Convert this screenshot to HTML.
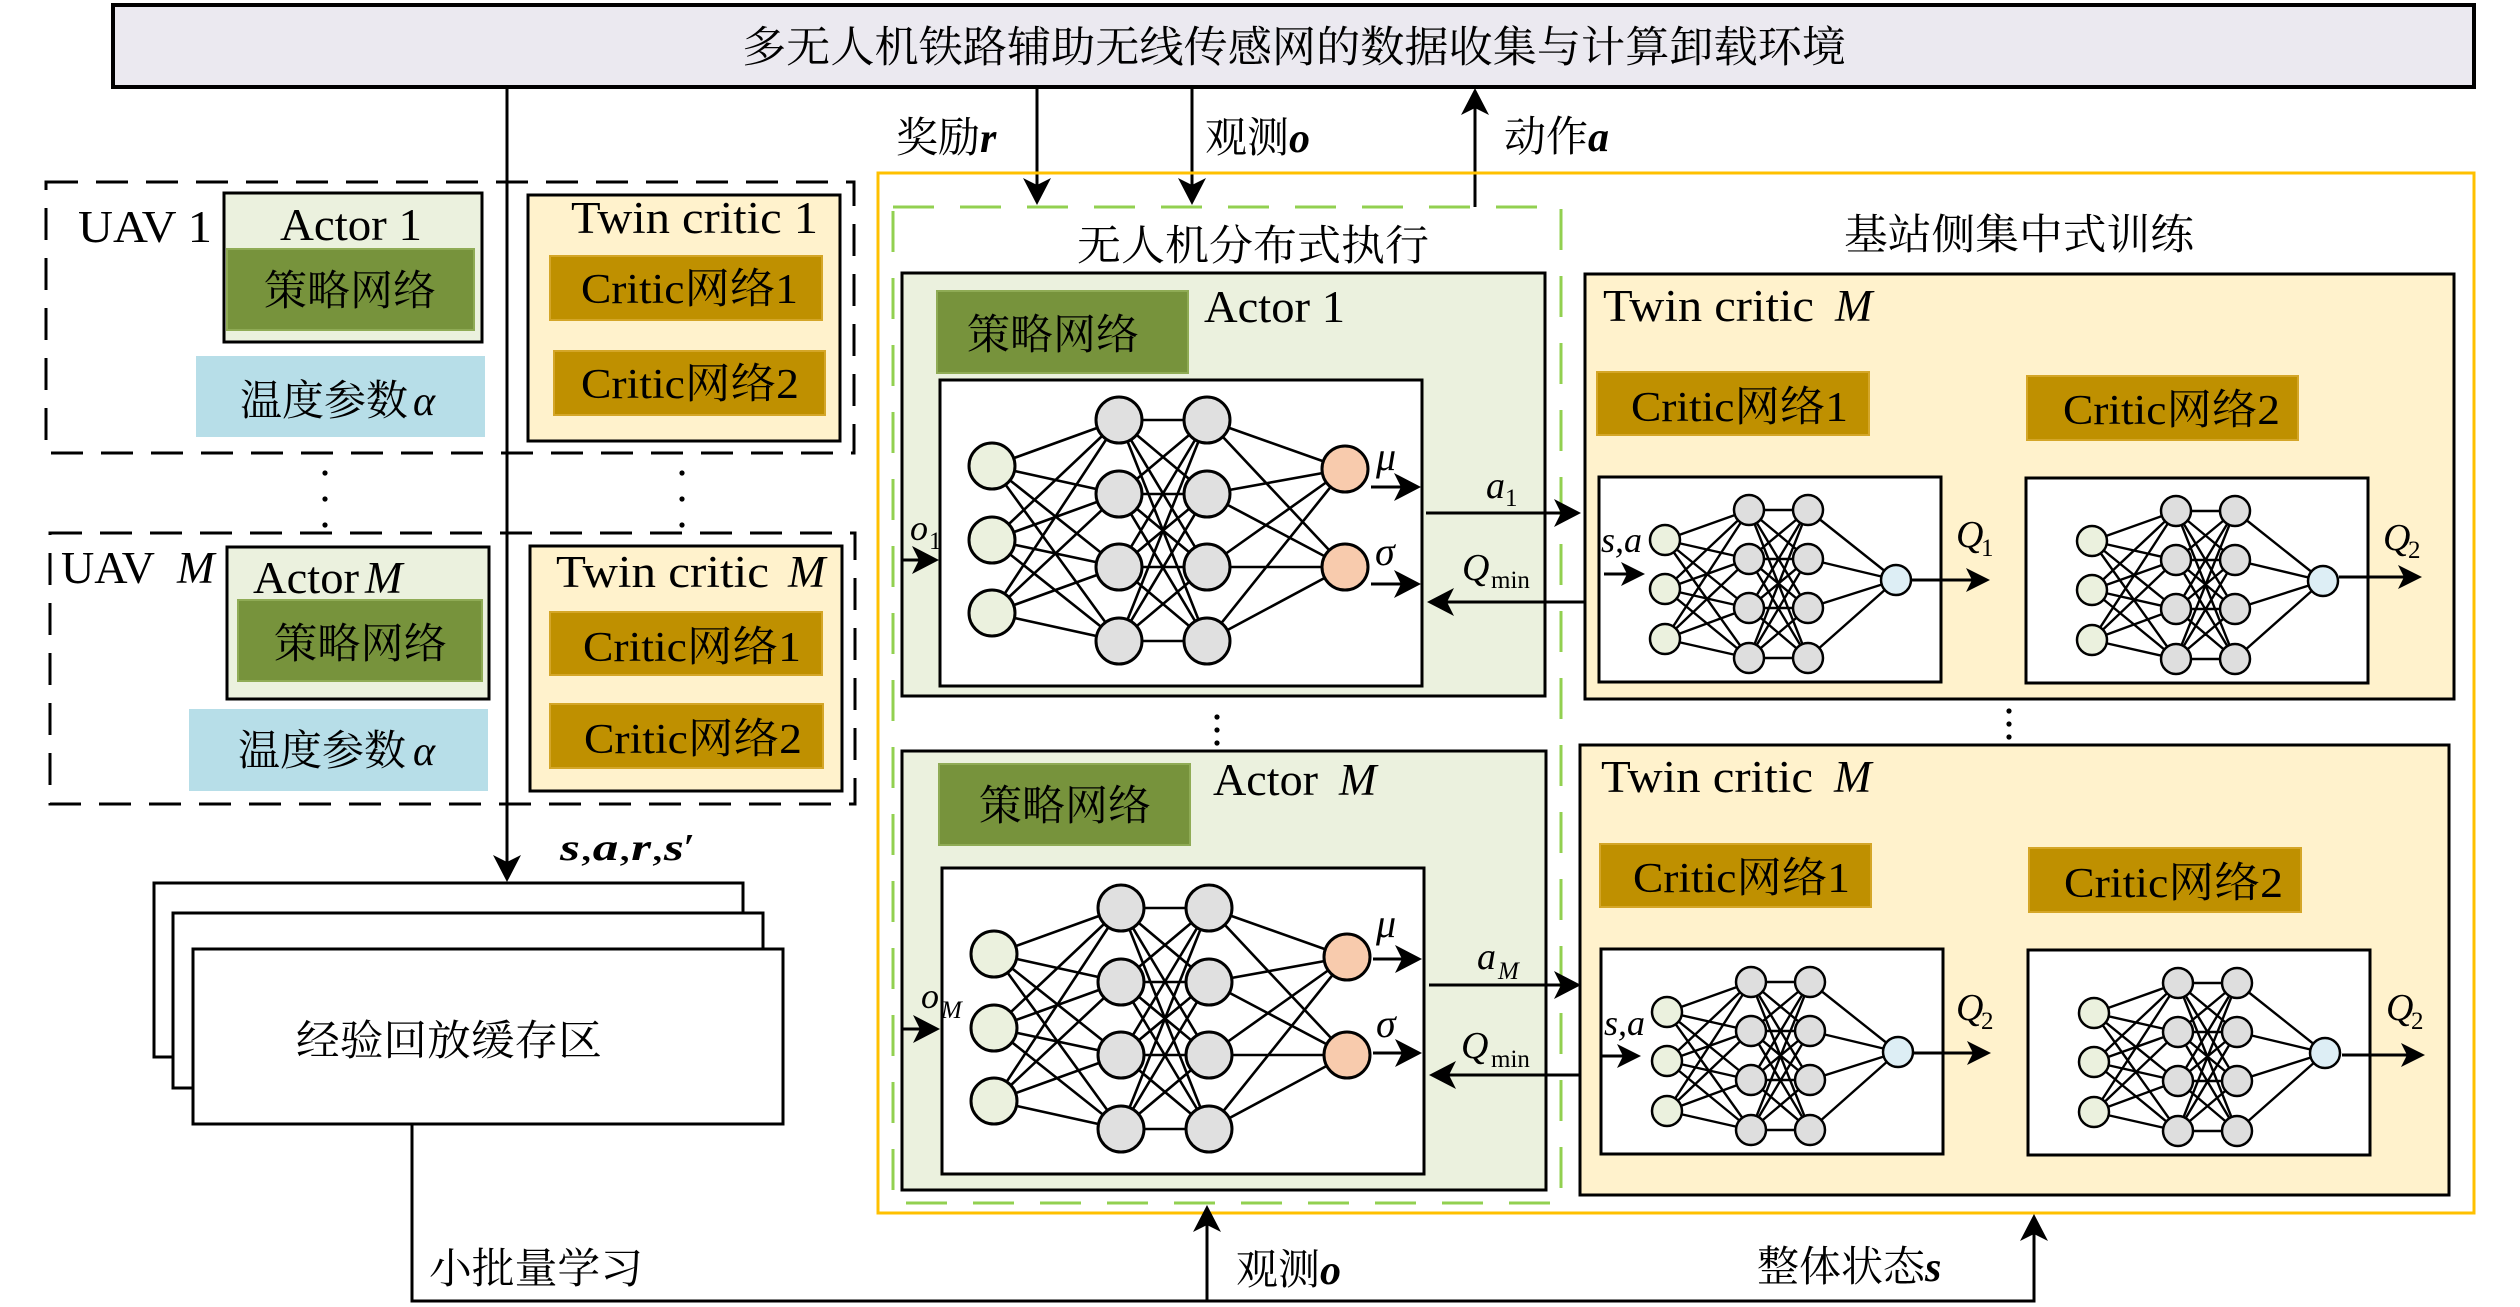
<!DOCTYPE html>
<html><head><meta charset="utf-8">
<style>
html,body{margin:0;padding:0;background:#fff;}
svg{display:block;}
text{font-family:"Liberation Serif","Noto Serif CJK SC",serif;fill:#000;}
.c{font-size:42px;}
.l{font-size:45px;}
.it{font-style:italic;}
.bi{font-style:italic;font-weight:bold;}
</style></head><body>
<svg width="2520" height="1307" viewBox="0 0 2520 1307" xmlns="http://www.w3.org/2000/svg">
<defs>
<g id="ann">
<rect x="0" y="0" width="482" height="306" fill="#fff" stroke="#000" stroke-width="3"/>
<path fill="none" stroke="#000" stroke-width="2.6" d="M52 86L179 40M52 86L179 114M52 86L179 187M52 86L179 261M52 160L179 40M52 160L179 114M52 160L179 187M52 160L179 261M52 233L179 40M52 233L179 114M52 233L179 187M52 233L179 261M179 40L267 40M179 40L267 114M179 40L267 187M179 40L267 261M179 114L267 40M179 114L267 114M179 114L267 187M179 114L267 261M179 187L267 40M179 187L267 114M179 187L267 187M179 187L267 261M179 261L267 40M179 261L267 114M179 261L267 187M179 261L267 261M267 40L405 89M267 40L405 187M267 114L405 89M267 114L405 187M267 187L405 89M267 187L405 187M267 261L405 89M267 261L405 187"/>
<g stroke="#000" stroke-width="3">
<circle cx="52" cy="86" r="23" fill="#ebf1de"/><circle cx="52" cy="160" r="23" fill="#ebf1de"/><circle cx="52" cy="233" r="23" fill="#ebf1de"/>
<circle cx="179" cy="40" r="23" fill="#e0e0e0"/><circle cx="179" cy="114" r="23" fill="#e0e0e0"/><circle cx="179" cy="187" r="23" fill="#e0e0e0"/><circle cx="179" cy="261" r="23" fill="#e0e0e0"/>
<circle cx="267" cy="40" r="23" fill="#e0e0e0"/><circle cx="267" cy="114" r="23" fill="#e0e0e0"/><circle cx="267" cy="187" r="23" fill="#e0e0e0"/><circle cx="267" cy="261" r="23" fill="#e0e0e0"/>
<circle cx="405" cy="89" r="23" fill="#f8cbad"/><circle cx="405" cy="187" r="23" fill="#f8cbad"/>
</g>
</g>
<g id="cnn">
<rect x="0" y="0" width="342" height="205" fill="#fff" stroke="#000" stroke-width="3"/>
<path fill="none" stroke="#000" stroke-width="2.4" d="M66 63L150 33M66 63L150 82M66 63L150 131M66 63L150 181M66 112L150 33M66 112L150 82M66 112L150 131M66 112L150 181M66 162L150 33M66 162L150 82M66 162L150 131M66 162L150 181M150 33L209 33M150 33L209 82M150 33L209 131M150 33L209 181M150 82L209 33M150 82L209 82M150 82L209 131M150 82L209 181M150 131L209 33M150 131L209 82M150 131L209 131M150 131L209 181M150 181L209 33M150 181L209 82M150 181L209 131M150 181L209 181M209 33L297 103M209 82L297 103M209 131L297 103M209 181L297 103"/>
<g stroke="#000" stroke-width="2.5">
<circle cx="66" cy="63" r="15" fill="#ebf1de"/><circle cx="66" cy="112" r="15" fill="#ebf1de"/><circle cx="66" cy="162" r="15" fill="#ebf1de"/>
<circle cx="150" cy="33" r="15" fill="#dedede"/><circle cx="150" cy="82" r="15" fill="#dedede"/><circle cx="150" cy="131" r="15" fill="#dedede"/><circle cx="150" cy="181" r="15" fill="#dedede"/>
<circle cx="209" cy="33" r="15" fill="#dedede"/><circle cx="209" cy="82" r="15" fill="#dedede"/><circle cx="209" cy="131" r="15" fill="#dedede"/><circle cx="209" cy="181" r="15" fill="#dedede"/>
<circle cx="297" cy="103" r="15" fill="#ddeef5"/>
</g>
</g>
</defs>

<rect width="2520" height="1307" fill="#fff"/>

<!-- top environment box -->
<rect x="113" y="5" width="2361" height="82" fill="#ebe9f0" stroke="#000" stroke-width="4"/>
<text class="c" x="742" y="62" textLength="1104" lengthAdjust="spacingAndGlyphs" style="font-size:43px">多无人机铁路辅助无线传感网的数据收集与计算卸载环境</text>

<!-- UAV 1 dashed group -->
<rect x="46" y="182" width="808" height="271" fill="none" stroke="#000" stroke-width="3" stroke-dasharray="32 18"/>
<text class="l" x="78" y="242" textLength="134" lengthAdjust="spacingAndGlyphs">UAV 1</text>
<rect x="224" y="193" width="258" height="149" fill="#ebf1de" stroke="#000" stroke-width="3"/>
<text class="l" x="280" y="240" textLength="142" lengthAdjust="spacingAndGlyphs">Actor 1</text>
<rect x="227" y="249" width="247" height="81" fill="#77933c" stroke="#8fab55" stroke-width="2"/>
<text class="c" x="264" y="305" textLength="172" lengthAdjust="spacingAndGlyphs">策略网络</text>
<rect x="196" y="356" width="289" height="81" fill="#b7dee8"/>
<text class="c" x="240" y="415">温度参数<tspan class="it" x="413">α</tspan></text>
<rect x="528" y="195" width="312" height="246" fill="#fff2cc" stroke="#000" stroke-width="3"/>
<text class="l" x="571" y="233" textLength="247" lengthAdjust="spacingAndGlyphs">Twin critic 1</text>
<rect x="550" y="256" width="272" height="64" fill="#bf9000" stroke="#d4a628" stroke-width="2"/>
<text class="c" x="581" y="303" textLength="217" lengthAdjust="spacingAndGlyphs">Critic网络1</text>
<rect x="554" y="351" width="271" height="64" fill="#bf9000" stroke="#d4a628" stroke-width="2"/>
<text class="c" x="581" y="398" textLength="218" lengthAdjust="spacingAndGlyphs">Critic网络2</text>

<!-- dots -->
<g fill="#000">
<circle cx="325" cy="473" r="2.6"/><circle cx="325" cy="499" r="2.6"/><circle cx="325" cy="525" r="2.6"/>
<circle cx="682" cy="473" r="2.6"/><circle cx="682" cy="499" r="2.6"/><circle cx="682" cy="525" r="2.6"/>
<circle cx="1217" cy="717" r="2.6"/><circle cx="1217" cy="730" r="2.6"/><circle cx="1217" cy="743" r="2.6"/>
<circle cx="2009" cy="711" r="2.6"/><circle cx="2009" cy="724" r="2.6"/><circle cx="2009" cy="737" r="2.6"/>
</g>

<!-- UAV M dashed group -->
<rect x="50" y="533" width="805" height="271" fill="none" stroke="#000" stroke-width="3" stroke-dasharray="32 18"/>
<text class="l" x="61" y="583" textLength="94" lengthAdjust="spacingAndGlyphs">UAV</text>
<text class="l it" x="177" y="583">M</text>
<rect x="227" y="547" width="262" height="152" fill="#ebf1de" stroke="#000" stroke-width="3"/>
<text class="l" x="253" y="593" textLength="106" lengthAdjust="spacingAndGlyphs">Actor</text>
<text class="l it" x="365" y="593">M</text>
<rect x="238" y="600" width="244" height="81" fill="#77933c" stroke="#8fab55" stroke-width="2"/>
<text class="c" x="274" y="658" textLength="173" lengthAdjust="spacingAndGlyphs">策略网络</text>
<rect x="189" y="709" width="299" height="82" fill="#b7dee8"/>
<text class="c" x="238" y="765">温度参数<tspan class="it" x="413">α</tspan></text>
<rect x="530" y="546" width="312" height="245" fill="#fff2cc" stroke="#000" stroke-width="3"/>
<text class="l" x="556" y="587" textLength="213" lengthAdjust="spacingAndGlyphs">Twin critic</text>
<text class="l it" x="788" y="587">M</text>
<rect x="550" y="612" width="272" height="63" fill="#bf9000" stroke="#d4a628" stroke-width="2"/>
<text class="c" x="583" y="661" textLength="218" lengthAdjust="spacingAndGlyphs">Critic网络1</text>
<rect x="550" y="704" width="273" height="64" fill="#bf9000" stroke="#d4a628" stroke-width="2"/>
<text class="c" x="584" y="753" textLength="218" lengthAdjust="spacingAndGlyphs">Critic网络2</text>

<!-- replay buffer -->
<rect x="154" y="883" width="589" height="174" fill="#fff" stroke="#000" stroke-width="3"/>
<rect x="173" y="913" width="590" height="175" fill="#fff" stroke="#000" stroke-width="3"/>
<rect x="193" y="949" width="590" height="175" fill="#fff" stroke="#000" stroke-width="3"/>
<text class="c" x="296" y="1055" textLength="306" lengthAdjust="spacingAndGlyphs">经验回放缓存区</text>

<!-- left vertical arrow -->
<line x1="507" y1="87" x2="507" y2="866" stroke="#000" stroke-width="3"/>
<polygon points="507,882 493,855 507,862 521,855" fill="#000"/>
<text x="560" y="860" style="font-size:38px" textLength="135" lengthAdjust="spacingAndGlyphs"><tspan class="bi">s</tspan>,<tspan class="bi">a</tspan>,<tspan class="bi">r</tspan>,<tspan class="bi">s</tspan>′</text>

<!-- top arrows -->
<line x1="1037" y1="87" x2="1037" y2="190" stroke="#000" stroke-width="3"/>
<polygon points="1037,205 1023,178 1037,185 1051,178" fill="#000"/>
<line x1="1192" y1="87" x2="1192" y2="190" stroke="#000" stroke-width="3"/>
<polygon points="1192,205 1178,178 1192,185 1206,178" fill="#000"/>
<line x1="1475" y1="207" x2="1475" y2="104" stroke="#000" stroke-width="3"/>
<polygon points="1475,88 1461,115 1475,108 1489,115" fill="#000"/>
<text class="c" x="896" y="152">奖励<tspan class="bi">r</tspan></text>
<text class="c" x="1205" y="152">观测<tspan class="bi">o</tspan></text>
<text class="c" x="1504" y="151">动作<tspan class="bi">a</tspan></text>

<!-- orange + green containers -->
<rect x="878" y="173" width="1596" height="1040" fill="none" stroke="#ffc000" stroke-width="3"/>
<rect x="893" y="207" width="668" height="996" fill="none" stroke="#92d050" stroke-width="3" stroke-dasharray="41 26"/>
<text class="c" x="1077" y="260" textLength="352" lengthAdjust="spacingAndGlyphs">无人机分布式执行</text>
<text class="c" x="1844" y="249" textLength="350" lengthAdjust="spacingAndGlyphs">基站侧集中式训练</text>

<!-- Actor 1 panel -->
<rect x="902" y="273" width="643" height="423" fill="#ebf1de" stroke="#000" stroke-width="3"/>
<rect x="937" y="291" width="251" height="82" fill="#77933c" stroke="#8fab55" stroke-width="2"/>
<text class="c" x="967" y="349" textLength="172" lengthAdjust="spacingAndGlyphs">策略网络</text>
<text class="l" x="1204" y="322" textLength="141" lengthAdjust="spacingAndGlyphs">Actor 1</text>
<use href="#ann" x="940" y="380"/>
<line x1="903" y1="560" x2="925" y2="560" stroke="#000" stroke-width="3"/>
<polygon points="939,560 912,546 919,560 912,574" fill="#000"/>
<text class="it" x="910" y="540" style="font-size:36px">o</text><text x="929" y="549" style="font-size:25px">1</text>
<line x1="1371" y1="487" x2="1405" y2="487" stroke="#000" stroke-width="3"/>
<polygon points="1421,487 1394,473 1401,487 1394,501" fill="#000"/>
<line x1="1371" y1="584" x2="1405" y2="584" stroke="#000" stroke-width="3"/>
<polygon points="1421,584 1394,570 1401,584 1394,598" fill="#000"/>
<text class="it" x="1376" y="470" style="font-size:40px">μ</text>
<text class="it" x="1375" y="565" style="font-size:40px">σ</text>
<line x1="1426" y1="513" x2="1565" y2="513" stroke="#000" stroke-width="3"/>
<polygon points="1581,513 1554,499 1561,513 1554,527" fill="#000"/>
<text class="it" x="1486" y="498" style="font-size:38px">a</text><text x="1505" y="506" style="font-size:25px">1</text>
<line x1="1585" y1="602" x2="1441" y2="602" stroke="#000" stroke-width="3"/>
<polygon points="1427,602 1454,588 1447,602 1454,616" fill="#000"/>
<text class="it" x="1462" y="580" style="font-size:38px">Q</text><text x="1491" y="588" style="font-size:25px">min</text>

<!-- Actor M panel -->
<rect x="902" y="751" width="644" height="439" fill="#ebf1de" stroke="#000" stroke-width="3"/>
<rect x="939" y="764" width="251" height="81" fill="#77933c" stroke="#8fab55" stroke-width="2"/>
<text class="c" x="979" y="820" textLength="172" lengthAdjust="spacingAndGlyphs">策略网络</text>
<text class="l" x="1213" y="795" textLength="105" lengthAdjust="spacingAndGlyphs">Actor</text>
<text class="l it" x="1339" y="795">M</text>
<use href="#ann" x="942" y="868"/>
<line x1="903" y1="1029" x2="925" y2="1029" stroke="#000" stroke-width="3"/>
<polygon points="940,1029 913,1015 920,1029 913,1043" fill="#000"/>
<text class="it" x="921" y="1008" style="font-size:36px">o</text><text class="it" x="941" y="1018" style="font-size:25px">M</text>
<line x1="1373" y1="959" x2="1406" y2="959" stroke="#000" stroke-width="3"/>
<polygon points="1422,959 1395,945 1402,959 1395,973" fill="#000"/>
<line x1="1373" y1="1053" x2="1406" y2="1053" stroke="#000" stroke-width="3"/>
<polygon points="1422,1053 1395,1039 1402,1053 1395,1067" fill="#000"/>
<text class="it" x="1376" y="937" style="font-size:40px">μ</text>
<text class="it" x="1376" y="1037" style="font-size:40px">σ</text>
<line x1="1429" y1="985" x2="1565" y2="985" stroke="#000" stroke-width="3"/>
<polygon points="1581,985 1554,971 1561,985 1554,999" fill="#000"/>
<text class="it" x="1477" y="969" style="font-size:38px">a</text><text class="it" x="1498" y="979" style="font-size:25px">M</text>
<line x1="1580" y1="1075" x2="1443" y2="1075" stroke="#000" stroke-width="3"/>
<polygon points="1429,1075 1456,1061 1449,1075 1456,1089" fill="#000"/>
<text class="it" x="1461" y="1058" style="font-size:38px">Q</text><text x="1491" y="1067" style="font-size:25px">min</text>

<!-- Twin critic top -->
<rect x="1585" y="274" width="869" height="425" fill="#fff2cc" stroke="#000" stroke-width="3"/>
<text class="l" x="1603" y="321" textLength="211" lengthAdjust="spacingAndGlyphs">Twin critic</text>
<text class="l it" x="1835" y="321">M</text>
<rect x="1597" y="372" width="272" height="63" fill="#bf9000" stroke="#d4a628" stroke-width="2"/>
<text class="c" x="1631" y="421" textLength="217" lengthAdjust="spacingAndGlyphs">Critic网络1</text>
<rect x="2027" y="376" width="271" height="64" fill="#bf9000" stroke="#d4a628" stroke-width="2"/>
<text class="c" x="2063" y="424" textLength="217" lengthAdjust="spacingAndGlyphs">Critic网络2</text>
<use href="#cnn" x="1599" y="477"/>
<use href="#cnn" x="2026" y="478"/>
<text class="it" x="1601" y="552" style="font-size:36px">s,a</text>
<line x1="1604" y1="574" x2="1630" y2="574" stroke="#000" stroke-width="3"/>
<polygon points="1645,574 1621,562 1627,574 1621,586" fill="#000"/>
<line x1="1912" y1="580" x2="1975" y2="580" stroke="#000" stroke-width="3"/>
<polygon points="1990,580 1966,568 1972,580 1966,592" fill="#000"/>
<text class="it" x="1956" y="547" style="font-size:38px">Q</text><text x="1981" y="556" style="font-size:25px">1</text>
<line x1="2339" y1="577" x2="2408" y2="577" stroke="#000" stroke-width="3"/>
<polygon points="2422,577 2398,565 2404,577 2398,589" fill="#000"/>
<text class="it" x="2383" y="550" style="font-size:38px">Q</text><text x="2408" y="558" style="font-size:25px">2</text>

<!-- Twin critic bottom -->
<rect x="1580" y="745" width="869" height="450" fill="#fff2cc" stroke="#000" stroke-width="3"/>
<text class="l" x="1601" y="792" textLength="212" lengthAdjust="spacingAndGlyphs">Twin critic</text>
<text class="l it" x="1834" y="792">M</text>
<rect x="1600" y="844" width="271" height="63" fill="#bf9000" stroke="#d4a628" stroke-width="2"/>
<text class="c" x="1633" y="892" textLength="217" lengthAdjust="spacingAndGlyphs">Critic网络1</text>
<rect x="2029" y="848" width="272" height="64" fill="#bf9000" stroke="#d4a628" stroke-width="2"/>
<text class="c" x="2064" y="897" textLength="219" lengthAdjust="spacingAndGlyphs">Critic网络2</text>
<use href="#cnn" x="1601" y="949"/>
<use href="#cnn" x="2028" y="950"/>
<text class="it" x="1604" y="1035" style="font-size:36px">s,a</text>
<line x1="1601" y1="1056" x2="1626" y2="1056" stroke="#000" stroke-width="3"/>
<polygon points="1641,1056 1617,1044 1623,1056 1617,1068" fill="#000"/>
<line x1="1913" y1="1053" x2="1976" y2="1053" stroke="#000" stroke-width="3"/>
<polygon points="1991,1053 1967,1041 1973,1053 1967,1065" fill="#000"/>
<text class="it" x="1956" y="1020" style="font-size:38px">Q</text><text x="1981" y="1029" style="font-size:25px">2</text>
<line x1="2342" y1="1055" x2="2410" y2="1055" stroke="#000" stroke-width="3"/>
<polygon points="2425,1055 2401,1043 2407,1055 2401,1067" fill="#000"/>
<text class="it" x="2386" y="1020" style="font-size:38px">Q</text><text x="2411" y="1029" style="font-size:25px">2</text>

<!-- bottom connectors -->
<path d="M412 1124 V1301 H2034 V1230" fill="none" stroke="#000" stroke-width="3"/>
<polygon points="2034,1214 2020,1241 2034,1234 2048,1241" fill="#000"/>
<line x1="1207" y1="1301" x2="1207" y2="1220" stroke="#000" stroke-width="3"/>
<polygon points="1207,1205 1193,1232 1207,1225 1221,1232" fill="#000"/>
<text class="c" x="429" y="1283" textLength="214" lengthAdjust="spacingAndGlyphs">小批量学习</text>
<text class="c" x="1236" y="1284">观测<tspan class="bi">o</tspan></text>
<text class="c" x="1757" y="1281">整体状态<tspan class="bi">s</tspan></text>
</svg>
</body></html>
